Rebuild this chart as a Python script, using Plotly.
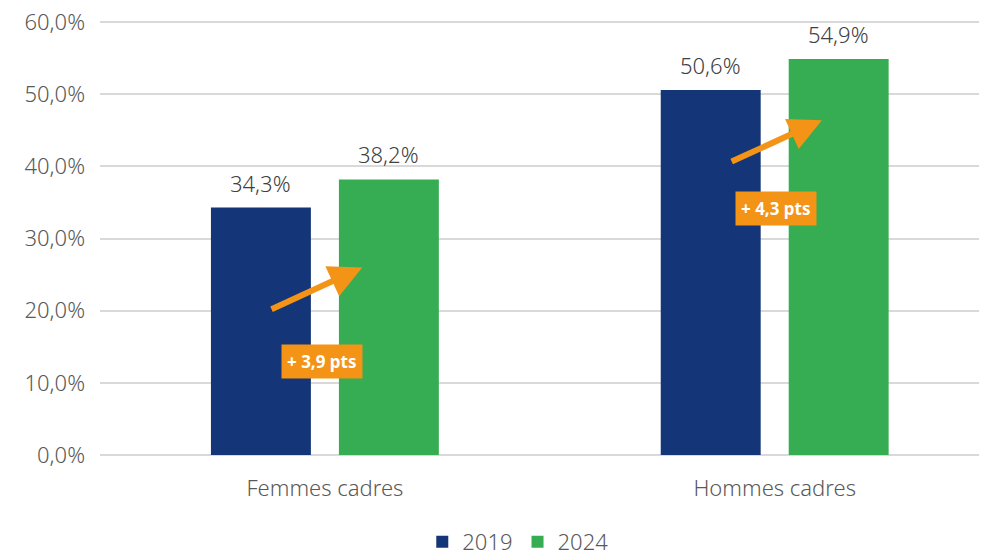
import plotly.graph_objects as go

categories = ["Femmes cadres", "Hommes cadres"]
series_names = ["2019", "2024"]
values_2019 = [34.3, 50.6]
values_2024 = [38.2, 54.9]
y_ticks = [0, 10, 20, 30, 40, 50, 60]
y_tick_text = [f"{v:.1f}".replace(".", ",") + "%" for v in y_ticks]

NAVY = "#143577"
GREEN = "#36AC53"
ORANGE = "#F39417"
FONT = "Noto Sans"
TXT = "#595959"
FS = 22

BARGAP = 0.431
GROUPGAP = 0.219

fig = go.Figure()
for name, vals, col in [(series_names[0], values_2019, NAVY), (series_names[1], values_2024, GREEN)]:
    fig.add_trace(go.Bar(
        x=categories, y=vals, name=name, marker_color=col, marker_line_width=0,
    ))

# value labels above bars
slot = (1 - BARGAP) / 2
for j, vals in enumerate([values_2019, values_2024]):
    off = (j - 0.5) * slot
    for i, v in enumerate(vals):
        fig.add_annotation(
            x=i + off, y=v, xref="x", yref="y", showarrow=False, yanchor="bottom", yshift=8,
            text=f"{v:.1f}".replace(".", ",") + "%",
            font=dict(size=FS, color="#404040", family=FONT, weight=300),
        )

# arrows and delta labels
arrow_geo = [
    (-0.122, 20.1, 0.083, 26.0, -0.006, 12.9),
    (-0.099, 40.6, 0.105, 46.4, 0.003, 34.2),
]
for i, cat in enumerate(categories):
    tx, ty, hx, hy, lx, ly = arrow_geo[i]
    fig.add_annotation(
        x=i + hx, y=hy, ax=i + tx, ay=ty, xref="x", yref="y", axref="x", ayref="y",
        showarrow=True, arrowhead=2, arrowsize=1.1, arrowwidth=6, arrowcolor=ORANGE, text="",
    )
    delta = values_2024[i] - values_2019[i]
    fig.add_annotation(
        x=i + lx, y=ly, xref="x", yref="y", showarrow=False,
        text="<b>+ " + f"{delta:.1f}".replace(".", ",") + " pts</b>",
        bgcolor=ORANGE, font=dict(size=17, color="white", family=FONT),
        borderpad=5,
    )

fig.update_layout(
    width=979, height=547,
    margin=dict(l=92, r=0, t=12, b=100, autoexpand=False),
    plot_bgcolor="white", paper_bgcolor="white",
    barmode="group", bargap=BARGAP, bargroupgap=GROUPGAP,
    font=dict(family=FONT, size=FS, color=TXT),
    showlegend=True,
    legend=dict(orientation="h", x=0.471, xanchor="center", yref="container", y=0.024, yanchor="middle",
                font=dict(size=FS, color=TXT, family=FONT, weight=300)),
    xaxis=dict(range=[-0.5, 1.472], showline=False, ticks="", automargin=False,
               ticklabelstandoff=18, ticklabeloverflow="allow",
               tickfont=dict(size=FS, color=TXT, weight=300)),
    yaxis=dict(range=[0, 60.3], tickvals=y_ticks, ticktext=y_tick_text, automargin=False,
               ticklabeloverflow="allow",
               showgrid=True, gridcolor="#D9D9D9", gridwidth=2, zeroline=True,
               zerolinecolor="#D9D9D9", zerolinewidth=2, ticks="", ticklabelstandoff=14,
               tickfont=dict(size=FS, color=TXT, weight=300)),
)

fig.write_html("out.html")
